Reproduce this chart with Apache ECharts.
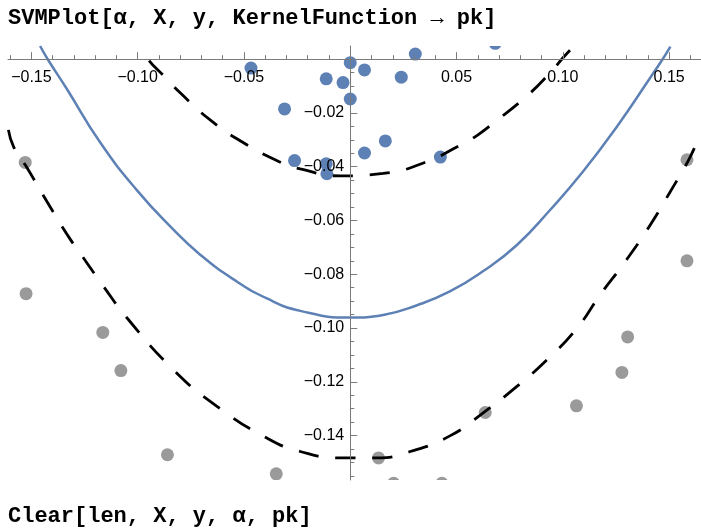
<!DOCTYPE html>
<html>
<head>
<meta charset="utf-8">
<script src="https://cdn.jsdelivr.net/npm/echarts@6/dist/echarts.min.js"></script>
<style>
  html, body { margin: 0; padding: 0; background: #fff; }
  #chart { width: 701px; height: 531px; }
</style>
</head>
<body>
<div id="chart"></div>
<script>
// decision boundary (solid) and the two margins (dashed)
const boundary = [
  [-0.1459, 0.0049], [-0.1421, -0.0003], [-0.1333, -0.0111], [-0.1176, -0.0310],
  [-0.1005, -0.0486], [-0.0833, -0.0633], [-0.0706, -0.0727], [-0.0551, -0.0818],
  [-0.0392, -0.0890], [-0.0235, -0.0936], [0, -0.0961], [0.0155, -0.0951],
  [0.0314, -0.0915], [0.0471, -0.0863], [0.0626, -0.0788], [0.0784, -0.0691],
  [0.0941, -0.0560], [0.1096, -0.0417], [0.1255, -0.0250], [0.1412, -0.0068],
  [0.1467, -0.0003], [0.1506, 0.0047]
]
const upperMargin = [
  [-0.0988, 0.0049], [-0.0949, -0.0003], [-0.0880, -0.0060], [-0.0800, -0.0125],
  [-0.0659, -0.0226], [-0.0504, -0.0310], [-0.0329, -0.0383], [-0.0235, -0.0408],
  [-0.0047, -0.0434], [0.0155, -0.0425], [0.0344, -0.0386], [0.0518, -0.0320],
  [0.0596, -0.0284], [0.0673, -0.0238], [0.0832, -0.0136], [0.0941, -0.0050],
  [0.1004, 0.0008], [0.1043, 0.0041]
]
const lowerMargin = [
  [-0.1608, -0.0263], [-0.1584, -0.0325], [-0.1529, -0.0393], [-0.1427, -0.0529],
  [-0.1326, -0.0659], [-0.1271, -0.0721], [-0.1161, -0.0845], [-0.1043, -0.0969],
  [-0.0832, -0.1155], [-0.0627, -0.1291], [-0.0392, -0.1409], [-0.0235, -0.1459],
  [-0.0047, -0.1483], [0.0126, -0.1483], [0.0282, -0.1459], [0.0471, -0.1400],
  [0.0627, -0.1314], [0.0784, -0.1217], [0.0933, -0.1112], [0.1067, -0.1000],
  [0.1176, -0.0876], [0.1294, -0.0752], [0.1396, -0.0635], [0.1506, -0.0492],
  [0.1600, -0.0362], [0.1647, -0.0274]
]

// training points
const positivePoints = [
  [-0.0467, -0.0033], [-0.0113, -0.0073], [-0.0034, -0.0087], [0, -0.0013],
  [0.0067, -0.0040], [0.0240, -0.0067], [0.0306, 0.0019], [0.0682, 0.0059],
  [0, -0.0148], [-0.0309, -0.0185], [0.0165, -0.0304], [0.0067, -0.0349],
  [-0.0262, -0.0377], [-0.0113, -0.0389], [-0.0110, -0.0426], [0.0424, -0.0364]
]
const negativePoints = [
  [-0.1529, -0.0384], [-0.1525, -0.0872], [-0.1164, -0.1016], [-0.1079, -0.1158],
  [-0.0860, -0.1471], [-0.0348, -0.1542], [0.0133, -0.1483], [0.0204, -0.1577],
  [0.0431, -0.1577], [0.0635, -0.1314], [0.1064, -0.1289], [0.1278, -0.1165],
  [0.1305, -0.1033], [0.1584, -0.0750], [0.1584, -0.0374]
]

// ticks
const xTickLabels = [-0.15, -0.10, -0.05, 0.05, 0.10, 0.15]
const xMinorTicks = [-0.16, -0.14, -0.13, -0.12, -0.11, -0.09, -0.08, -0.07, -0.06,
  -0.04, -0.03, -0.02, -0.01, 0.01, 0.02, 0.03, 0.04, 0.06, 0.07, 0.08, 0.09,
  0.11, 0.12, 0.13, 0.14, 0.16]
const yTickLabels = [-0.02, -0.04, -0.06, -0.08, -0.10, -0.12, -0.14]
const yMinorTicks = [-0.155, -0.15, -0.145, -0.135, -0.13, -0.125, -0.115, -0.11, -0.105,
  -0.095, -0.09, -0.085, -0.075, -0.07, -0.065, -0.055, -0.05, -0.045,
  -0.035, -0.03, -0.025, -0.015, -0.01, -0.005]

const blue = '#5E81B5'
const gray = '#9A9A9A'
const axisColor = '#7a7a7a'
const fmt = v => v.toFixed(2).replace('-', '\u2212')

const grid = { left: 8, right: 0, top: 46, bottom: 51 }

const dots = (points, color) => ({
  type: 'custom',
  data: points,
  clip: true,
  z: 2,
  renderItem: (params, api) => {
    const p = api.coord([api.value(0), api.value(1)])
    return { type: 'circle', shape: { cx: p[0], cy: p[1], r: 6.5 }, style: { fill: color } }
  }
})

const curve = (points, color, type, dashOffset) => ({
  type: 'line',
  data: points,
  smooth: 0.5,
  showSymbol: false,
  z: 3,
  lineStyle: { color, width: type === 'solid' ? 2.5 : 2.8, type, dashOffset: dashOffset || 0, cap: 'butt' }
})

const xBase = {
  type: 'value', min: -0.161, max: 0.165, position: 'bottom', z: 5,
  splitLine: { show: false }
}
const yBase = {
  type: 'value', min: -0.1565, max: 0.0049, position: 'left', z: 5,
  splitLine: { show: false }
}

const chart = echarts.init(document.getElementById('chart'))
chart.setOption({
  animation: false,
  title: [
    {
      text: 'SVMPlot[α, X, y, KernelFunction → pk]',
      left: 8, top: 7, padding: 0,
      textStyle: { fontFamily: 'Liberation Mono', fontWeight: 'bold', fontSize: 22, color: '#000' }
    },
    {
      text: 'Clear[len, X, y, α, pk]',
      left: 8, top: 505, padding: 0,
      textStyle: { fontFamily: 'Liberation Mono', fontWeight: 'bold', fontSize: 22, color: '#000' }
    }
  ],
  grid: Object.assign({ containLabel: false, outerBoundsMode: 'none' }, grid),
  xAxis: [
    Object.assign({}, xBase, {
      axisLine: { onZero: false, lineStyle: { color: axisColor, width: 1 } },
      axisTick: { inside: true, length: 7, customValues: xTickLabels, lineStyle: { color: axisColor } },
      axisLabel: {
        customValues: xTickLabels, formatter: fmt, margin: 10,
        color: '#000', fontSize: 16, fontFamily: 'Liberation Sans'
      }
    }),
    Object.assign({}, xBase, {
      axisLine: { onZero: false, lineStyle: { color: axisColor, opacity: 0 } },
      axisTick: { inside: true, length: 4, customValues: xMinorTicks, lineStyle: { color: axisColor } },
      axisLabel: { show: false }
    })
  ],
  yAxis: [
    Object.assign({}, yBase, {
      axisLine: { onZero: false, lineStyle: { color: axisColor, width: 1 } },
      axisTick: { inside: true, length: 7, customValues: yTickLabels, lineStyle: { color: axisColor } },
      axisLabel: {
        customValues: yTickLabels, formatter: fmt, margin: 6,
        color: '#000', fontSize: 16, fontFamily: 'Liberation Sans'
      }
    }),
    Object.assign({}, yBase, {
      axisLine: { onZero: false, lineStyle: { color: axisColor, opacity: 0 } },
      axisTick: { inside: true, length: 4, customValues: yMinorTicks, lineStyle: { color: axisColor } },
      axisLabel: { show: false }
    })
  ],
  series: [
    dots(positivePoints, blue),
    dots(negativePoints, gray),
    curve(boundary, blue, 'solid'),
    curve(upperMargin, '#000', [20, 17], 20),
    curve(lowerMargin, '#000', [20, 17])
  ]
})

// move the axes so that they cross at the origin (labels follow the axis)
const origin = chart.convertToPixel({ gridIndex: 0 }, [0, 0])
const xOff = -(531 - grid.bottom - origin[1])
const yOff = -(origin[0] - grid.left)
chart.setOption({
  xAxis: [{ offset: xOff }, { offset: xOff }],
  yAxis: [{ offset: yOff }, { offset: yOff }]
})
</script>
</body>
</html>
